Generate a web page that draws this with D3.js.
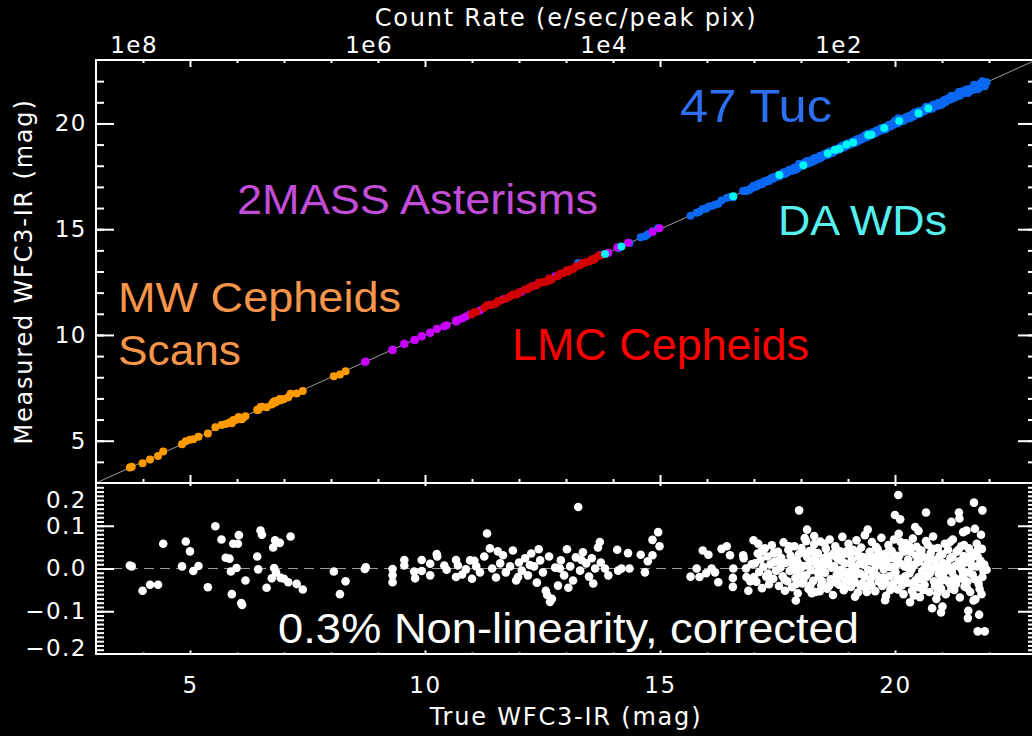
<!DOCTYPE html>
<html>
<head>
<meta charset="utf-8">
<script src="https://cdn.jsdelivr.net/npm/d3@7"></script>
<style>
  html, body { margin: 0; padding: 0; background: #000; }
  svg { display: block; background: #000; }
  .axis text { font-family: "DejaVu Sans", sans-serif; fill: #fff; letter-spacing: 1.5px; font-size: 23px; }
  .axis line { stroke: #fff; stroke-width: 2; }
  .title { font-family: "DejaVu Sans", sans-serif; fill: #fff; letter-spacing: 1.8px; font-size: 24px; }
  .note { font-family: "Liberation Sans", Arial, sans-serif; }
</style>
</head>
<body>
<svg class="main" width="1032" height="736"></svg>
<script>
// axes
var X_DOMAIN = [3, 23];
var MAG_DOMAIN = [3, 23];
var RESID_DOMAIN = [-0.2, 0.2];
var MAG_TICKS = [5, 10, 15, 20];
var MAG_MINOR = [4, 6, 7, 8, 9, 11, 12, 13, 14, 16, 17, 18, 19, 21, 22];
var RESID_TICKS = [-0.2, -0.1, 0, 0.1, 0.2];
var COUNT_TICKS = [1e8, 1e6, 1e4, 1e2];
var COUNT_ZP = 23.8; // mag that gives 1 e/sec/peak pix

// [true mag, residual] per sample
var MW_CEPHEIDS = [
  [3.72, 0.007], [3.76, 0.005], [3.99, -0.052], [4.15, -0.038], [4.32, -0.038], [4.43, 0.058],
  [4.83, 0.005], [4.91, 0.063], [5.00, 0.040], [5.07, -0.006], [5.18, 0.006], [5.38, -0.044],
  [5.54, 0.099], [5.67, 0.068], [5.76, 0.025], [5.84, 0.023], [5.87, -0.007], [5.89, -0.060],
  [5.92, 0.058], [5.99, 0.001], [6.02, 0.058], [6.04, 0.078], [6.09, -0.081], [6.11, -0.085],
  [6.18, -0.028], [6.43, 0.028], [6.45, -0.002], [6.50, 0.089], [6.53, 0.079], [6.63, -0.045],
  [6.74, -0.023], [6.77, 0.049], [6.79, 0.001], [6.81, 0.066], [6.83, -0.009], [6.91, 0.060],
  [6.93, -0.022], [7.00, -0.024], [7.09, -0.032], [7.14, 0.075], [7.27, -0.036], [7.40, -0.049],
  [8.06, -0.007], [8.19, -0.060], [8.31, -0.030]
];

var ASTERISMS = [
  [8.72, -0.001], [8.74, 0.003], [9.31, -0.001], [9.31, -0.016], [9.31, -0.032], [9.56, 0.020],
  [9.56, 0.007], [9.77, -0.007], [9.79, -0.023], [9.93, 0.020], [9.93, -0.006], [10.11, 0.011],
  [10.11, -0.016], [10.25, 0.034], [10.26, 0.028], [10.41, 0.007], [10.46, -0.003], [10.66, 0.020],
  [10.66, -0.020], [10.70, 0.007], [10.79, -0.014], [10.87, -0.002], [10.96, 0.019], [11.17, -0.009],
  [11.38, 0.047], [11.66, 0.031], [12.06, -0.005], [12.32, 0.005], [12.77, 0.002], [13.72, 0.062],
  [13.90, -0.016], [14.09, 0.044], [14.32, 0.036], [14.84, 0.031], [14.99, 0.052]
];

var LMC_CEPHEIDS = [
  [11.00, -0.024], [11.09, 0.005], [11.26, 0.028], [11.32, 0.082], [11.43, 0.000], [11.51, -0.021],
  [11.60, 0.012], [11.72, -0.009], [11.81, 0.005], [11.87, 0.042], [11.94, -0.028], [12.00, 0.014],
  [12.13, 0.024], [12.19, -0.016], [12.26, 0.035], [12.38, -0.033], [12.45, 0.019], [12.51, -0.009],
  [12.57, -0.052], [12.60, -0.062], [12.64, 0.028], [12.66, -0.078], [12.70, -0.071], [12.83, -0.040],
  [12.89, 0.019], [12.96, -0.016], [13.02, 0.045], [13.09, 0.005], [13.15, -0.028], [13.21, 0.026],
  [13.30, -0.005], [13.36, 0.038], [13.43, 0.012], [13.49, -0.019], [13.55, 0.024], [13.62, 0.000],
  [13.68, 0.049], [13.74, 0.014], [11.05, 0.018], [11.55, 0.040], [11.98, -0.020], [12.23, 0.008],
  [12.42, 0.045], [12.87, 0.000], [13.05, -0.045], [13.33, 0.020], [13.58, -0.035]
];

var TUC47 = [
  [13.26, 0.144], [14.11, -0.005], [14.35, 0.000], [14.59, 0.032], [14.68, -0.009], [14.74, 0.017],
  [14.84, 0.067], [14.96, 0.085],
  [15.65, -0.019], [15.78, 0.000], [15.84, -0.020], [15.91, 0.042], [15.98, -0.011], [16.03, 0.032],
  [16.10, 0.000], [16.17, -0.009], [16.24, -0.032], [16.31, 0.046], [16.42, 0.052], [16.49, 0.031],
  [16.55, -0.022], [16.55, -0.043], [16.77, 0.031], [16.78, 0.024], [16.83, 0.000], [16.84, -0.020],
  [16.88, -0.052], [16.99, 0.066], [17.09, 0.058],
  [17.02, 0.012], [17.05, -0.031], [17.08, 0.035], [17.11, -0.008], [17.14, 0.021], [17.17, -0.046],
  [17.20, 0.004], [17.23, 0.047], [17.26, -0.019], [17.29, 0.028], [17.32, -0.037], [17.35, 0.010],
  [17.38, 0.054], [17.41, -0.024], [17.44, 0.016], [17.47, -0.005],
  [17.51, 0.039], [17.53, -0.041], [17.56, 0.002], [17.58, 0.025], [17.61, -0.018], [17.63, 0.061],
  [17.66, -0.052], [17.68, 0.013], [17.71, -0.030], [17.73, 0.044], [17.76, -0.006], [17.78, 0.030],
  [17.81, -0.044], [17.83, 0.008], [17.86, 0.052], [17.88, -0.022], [17.91, 0.019], [17.93, -0.058],
  [17.96, 0.034], [17.98, -0.012],
  [18.01, 0.048], [18.03, -0.035], [18.06, 0.006], [18.08, 0.071], [18.11, -0.016], [18.13, 0.027],
  [18.16, -0.048], [18.18, 0.041], [18.21, -0.004], [18.23, 0.018], [18.26, -0.029], [18.28, 0.057],
  [18.31, -0.055], [18.33, 0.010], [18.36, 0.036], [18.38, -0.020], [18.41, 0.063], [18.43, -0.039],
  [18.46, 0.001], [18.48, 0.024],
  [18.51, -0.010], [18.53, 0.046], [18.56, -0.047], [18.58, 0.015], [18.61, 0.068], [18.63, -0.025],
  [18.66, 0.031], [18.68, -0.062], [18.71, 0.005], [18.73, 0.052], [18.76, -0.014], [18.78, 0.023],
  [18.81, -0.038], [18.83, 0.040], [18.86, -0.003], [18.88, 0.074], [18.91, -0.051], [18.93, 0.012],
  [18.96, -0.027], [18.98, 0.035],
  [19.01, 0.058], [19.03, -0.008], [19.06, -0.043], [19.08, 0.020], [19.11, 0.044], [19.13, -0.021],
  [19.16, 0.003], [19.18, 0.066], [19.21, -0.056], [19.23, 0.029], [19.26, -0.012], [19.28, 0.049],
  [19.31, -0.034], [19.33, 0.009], [19.36, 0.078], [19.38, -0.046], [19.41, 0.017], [19.43, -0.003],
  [19.46, 0.039], [19.48, -0.025],
  [19.51, 0.062], [19.53, -0.015], [19.56, 0.026], [19.58, -0.053], [19.61, 0.007], [19.63, 0.045],
  [19.66, -0.031], [19.68, 0.014], [19.71, 0.072], [19.73, -0.041], [19.76, -0.002], [19.78, 0.034],
  [19.81, -0.064], [19.83, 0.021], [19.86, 0.055], [19.88, -0.018], [19.91, 0.003], [19.93, 0.041],
  [19.96, -0.036], [19.98, 0.068],
  [20.01, -0.009], [20.03, 0.030], [20.06, -0.049], [20.08, 0.081], [20.11, 0.012], [20.13, -0.024],
  [20.16, 0.047], [20.18, -0.060], [20.21, 0.004], [20.23, 0.059], [20.26, -0.033], [20.28, 0.021],
  [20.31, -0.011], [20.33, 0.039], [20.36, -0.052], [20.38, 0.070], [20.41, 0.008], [20.43, -0.028],
  [20.46, 0.051], [20.48, -0.044],
  [20.51, 0.016], [20.53, -0.067], [20.56, 0.042], [20.58, -0.006], [20.61, 0.027], [20.63, -0.038],
  [20.66, 0.064], [20.68, -0.019], [20.71, 0.009], [20.73, -0.055], [20.76, 0.036], [20.78, -0.002],
  [20.81, 0.075], [20.83, -0.030], [20.86, 0.020], [20.88, -0.071], [20.91, 0.048], [20.93, -0.013],
  [20.96, 0.003], [20.98, -0.047],
  [21.01, 0.033], [21.03, -0.021], [21.06, 0.058], [21.08, -0.060], [21.11, 0.011], [21.13, 0.044],
  [21.16, -0.035], [21.18, 0.024], [21.21, -0.008], [21.23, 0.068], [21.26, -0.050], [21.28, 0.006],
  [21.31, 0.039], [21.33, -0.026], [21.36, 0.017], [21.38, -0.068], [21.41, 0.052], [21.43, -0.004],
  [21.46, 0.029], [21.48, -0.042],
  [21.51, 0.014], [21.54, -0.031], [21.57, 0.047], [21.60, -0.055], [21.62, 0.022], [21.65, -0.014],
  [21.68, 0.036], [21.71, -0.072], [21.74, 0.005], [21.78, -0.036], [21.82, 0.018], [21.86, -0.020],
  [21.90, 0.009],
  [17.85, -0.003], [17.95, 0.011], [18.05, -0.022], [18.15, 0.008], [18.25, 0.040], [18.35, -0.008],
  [18.45, -0.030], [18.55, 0.028], [18.65, 0.002], [18.75, -0.033], [18.85, 0.019], [18.95, -0.009],
  [19.05, 0.033], [19.15, -0.033], [19.25, 0.012], [19.35, -0.018], [19.45, 0.025], [19.55, -0.004],
  [19.65, 0.036], [19.75, -0.022], [19.85, 0.006], [19.95, 0.024], [20.05, 0.018], [20.15, -0.039],
  [20.25, 0.009], [20.35, -0.002], [20.45, 0.030], [20.55, -0.025], [20.65, 0.005], [20.75, 0.022],
  [20.85, -0.041], [20.95, 0.030], [21.05, -0.007], [21.15, 0.002], [21.25, -0.020], [21.35, 0.044],
  [21.45, -0.015], [18.40, -0.053], [18.90, -0.040], [19.40, -0.055], [19.90, -0.050], [20.40, -0.063],
  [20.90, -0.058], [21.20, -0.047], [19.60, 0.050], [20.20, 0.040], [20.70, 0.055],
  [17.55, 0.018], [17.65, -0.026], [17.75, 0.052], [17.80, 0.021], [17.90, -0.036], [18.00, 0.002],
  [18.10, 0.034], [18.20, -0.040], [18.30, 0.024], [18.42, 0.012], [18.50, 0.058], [18.60, -0.040],
  [18.70, 0.036], [18.80, -0.008], [18.87, 0.030], [19.00, -0.027], [19.07, 0.010], [19.20, 0.038],
  [19.27, -0.040], [19.32, 0.027], [19.44, -0.039], [19.52, 0.016], [19.62, -0.017], [19.70, 0.025],
  [19.80, -0.034], [19.87, 0.040], [20.00, 0.005], [20.04, -0.026], [20.12, 0.062], [20.22, -0.018],
  [20.30, 0.053], [20.37, -0.035], [20.47, 0.014], [20.52, 0.034], [20.60, -0.050], [20.67, 0.024],
  [20.74, -0.011], [20.80, 0.046], [20.87, 0.004], [20.97, -0.030], [21.02, 0.013], [21.10, -0.028],
  [21.17, 0.062], [21.22, 0.027], [21.30, -0.036], [21.40, 0.002], [21.47, 0.055], [21.53, -0.045],
  [21.58, 0.030], [21.64, 0.006], [21.70, -0.025], [21.76, 0.028], [21.80, -0.048], [21.85, 0.046],
  [17.00, -0.020], [17.16, 0.040], [17.30, -0.012], [17.42, 0.036], [16.95, 0.010], [16.92, -0.030],
  // outliers
  [17.96, 0.136], [20.07, 0.172], [20.00, 0.125], [20.11, 0.115], [20.66, 0.131], [21.36, 0.131],
  [21.20, 0.109], [21.68, 0.154], [21.86, 0.136], [21.37, 0.117], [18.13, 0.091], [18.28, 0.076],
  [18.11, 0.064], [19.42, 0.091], [20.43, 0.097], [20.50, 0.088], [21.70, 0.093], [21.83, 0.079],
  [21.52, 0.089], [21.45, 0.085], [21.74, 0.058], [21.77, 0.046], [17.89, -0.075], [18.23, -0.058],
  [19.15, -0.066], [19.79, -0.074], [20.32, -0.079], [20.79, -0.093], [20.98, -0.103], [21.01, -0.089],
  [21.56, -0.099], [21.55, -0.116], [21.79, -0.108], [21.76, -0.147], [21.91, -0.147], [21.84, -0.060],
  [21.67, -0.075], [21.88, -0.005], [21.95, -0.003], [21.57, -0.009], [21.49, -0.028]
];

var DA_WDS = [
  [13.83, 0.000], [14.18, 0.000], [16.56, 0.000], [17.54, 0.020], [18.05, -0.030], [18.57, 0.010],
  [18.72, 0.030], [18.82, -0.020], [18.97, 0.040], [19.11, -0.010], [19.43, 0.020], [19.50, -0.040],
  [19.77, 0.010], [20.09, 0.030], [20.50, -0.020], [20.71, 0.010]
];

var W = 1032, H = 736;
var LEFT = 96, RIGHT = 1036, TOP = 60, MID = 483, BOTTOM = 654;

var GROUPS = [
  { data: TUC47, color: "#0a68f2" },
  { data: ASTERISMS, color: "#c800ff" },
  { data: LMC_CEPHEIDS, color: "#d20000" },
  { data: MW_CEPHEIDS, color: "#ff9a00" },
  { data: DA_WDS, color: "#00f5f5" }
];

function countRate(m) { return Math.pow(10, 0.4 * (COUNT_ZP - m)); }

function initChart() {
  var svg = d3.select("svg.main");

  var x = d3.scaleLinear().domain(X_DOMAIN).range([LEFT, RIGHT]);
  var yTop = d3.scaleLinear().domain(MAG_DOMAIN).range([MID, TOP]);
  var yRes = d3.scaleLinear().domain(RESID_DOMAIN).range([BOTTOM, MID]);
  var xCount = d3.scaleLog()
    .domain([countRate(X_DOMAIN[0]), countRate(X_DOMAIN[1])])
    .range([LEFT, RIGHT]);

  // one-to-one line
  svg.append("line")
    .attr("x1", x(3)).attr("y1", yTop(3))
    .attr("x2", x(23)).attr("y2", yTop(23))
    .attr("stroke", "#9a9a9a").attr("stroke-width", 1);

  // zero line in residual panel
  svg.append("line")
    .attr("x1", LEFT).attr("x2", RIGHT)
    .attr("y1", yRes(0)).attr("y2", yRes(0))
    .attr("stroke", "#9a9a9a").attr("stroke-width", 1)
    .attr("stroke-dasharray", "10,6");

  // top panel points, coloured by sample
  GROUPS.forEach(function(g) {
    svg.append("g").selectAll("circle")
      .data(g.data)
      .enter().append("circle")
      .attr("cx", function(d) { return x(d[0]); })
      .attr("cy", function(d) { return yTop(d[0] + d[1]); })
      .attr("r", 4)
      .attr("fill", g.color);
  });

  // residuals, all white
  var all = [];
  GROUPS.forEach(function(g) { all = all.concat(g.data); });
  svg.append("g").selectAll("circle")
    .data(all)
    .enter().append("circle")
    .attr("cx", function(d) { return x(d[0]); })
    .attr("cy", function(d) { return yRes(d[1]); })
    .attr("r", 4.3)
    .attr("fill", "#fff");

  // frame
  var frame = svg.append("g").attr("stroke", "#fff").attr("stroke-width", 2);
  frame.append("line").attr("x1", LEFT - 1).attr("x2", RIGHT).attr("y1", TOP).attr("y2", TOP);
  frame.append("line").attr("x1", LEFT - 1).attr("x2", RIGHT).attr("y1", MID).attr("y2", MID);
  frame.append("line").attr("x1", LEFT - 1).attr("x2", RIGHT).attr("y1", BOTTOM).attr("y2", BOTTOM);
  frame.append("line").attr("x1", LEFT).attr("x2", LEFT).attr("y1", TOP).attr("y2", BOTTOM);
  frame.append("line").attr("x1", RIGHT).attr("x2", RIGHT).attr("y1", TOP).attr("y2", BOTTOM);

  function ticks(axis, values, size, tx, ty) {
    svg.append("g").attr("class", "axis")
      .attr("transform", "translate(" + tx + "," + ty + ")")
      .call(axis.tickValues(values).tickSize(size).tickFormat(""))
      .call(function(g) { g.select(".domain").remove(); });
  }

  // x ticks
  ticks(d3.axisTop(x), MAG_TICKS, -7, 0, TOP);
  ticks(d3.axisTop(x), MAG_MINOR, -3, 0, TOP);
  ticks(d3.axisBottom(x), MAG_TICKS, -8, 0, MID);
  ticks(d3.axisBottom(x), MAG_MINOR, -4, 0, MID);
  ticks(d3.axisTop(x), MAG_TICKS, -3, 0, MID);
  ticks(d3.axisBottom(x), MAG_TICKS, -3.5, 0, BOTTOM);
  ticks(d3.axisBottom(x), MAG_MINOR, -1.5, 0, BOTTOM);

  // y ticks, top panel
  var magMinorY = d3.range(4, 23);
  ticks(d3.axisLeft(yTop), MAG_TICKS, -18, LEFT, 0);
  ticks(d3.axisLeft(yTop), magMinorY, -8, LEFT, 0);
  ticks(d3.axisRight(yTop), MAG_TICKS, -18, RIGHT, 0);
  ticks(d3.axisRight(yTop), magMinorY, -8, RIGHT, 0);

  // y ticks, residual panel
  var resMinor = d3.range(-19, 20).map(function(i) { return i / 100; });
  ticks(d3.axisLeft(yRes), [-0.1, 0, 0.1], -18, LEFT, 0);
  ticks(d3.axisLeft(yRes), resMinor, -8, LEFT, 0);
  ticks(d3.axisRight(yRes), [-0.1, 0, 0.1], -18, RIGHT, 0);
  ticks(d3.axisRight(yRes), resMinor, -8, RIGHT, 0);

  // tick labels
  function labels(axis, values, fmt, pad, tx, ty) {
    return svg.append("g").attr("class", "axis")
      .attr("transform", "translate(" + tx + "," + ty + ")")
      .call(axis.tickValues(values).tickSize(0).tickPadding(pad).tickFormat(fmt))
      .call(function(g) { g.select(".domain").remove(); });
  }

  labels(d3.axisBottom(x), MAG_TICKS, d3.format("d"), 23, 0, BOTTOM);
  labels(d3.axisLeft(yTop), MAG_TICKS, d3.format("d"), 9, LEFT, 0);
  var resLab = labels(d3.axisLeft(yRes), RESID_TICKS, d3.format(".1f"), 9, LEFT, 0);
  resLab.selectAll(".tick text").attr("dy", function(d) {
    if (d > 0.15) return "1.05em";
    if (d < -0.15) return "0.05em";
    return "0.32em";
  });
  labels(d3.axisTop(xCount), COUNT_TICKS, function(d) { return "1e" + Math.round(Math.log10(d)); }, 7, 0, TOP);

  // axis titles
  svg.append("text").attr("class", "title")
    .attr("x", (LEFT + RIGHT) / 2).attr("y", 26)
    .attr("text-anchor", "middle")
    .text("Count Rate (e/sec/peak pix)");
  svg.append("text").attr("class", "title")
    .attr("x", (LEFT + RIGHT) / 2).attr("y", 725)
    .attr("text-anchor", "middle")
    .text("True WFC3-IR (mag)");
  svg.append("text").attr("class", "title")
    .attr("transform", "translate(32," + ((TOP + MID) / 2) + ")rotate(-90)")
    .attr("text-anchor", "middle")
    .text("Measured WFC3-IR (mag)");

  // sample annotations
  var notes = [
    { text: "47 Tuc", x: 680, y: 122, size: 47, len: 152, color: "#2c6ff2" },
    { text: "DA WDs", x: 778, y: 235, size: 43, len: 169, color: "#55f0f0" },
    { text: "2MASS Asterisms", x: 237, y: 214, size: 42, len: 361, color: "#c34cd8" },
    { text: "MW Cepheids", x: 118, y: 312, size: 42, len: 283, color: "#f7964a" },
    { text: "Scans", x: 118, y: 365, size: 42, len: 123, color: "#f7964a" },
    { text: "LMC Cepheids", x: 512, y: 360, size: 45, len: 297, color: "#ff0000" },
    { text: "0.3% Non-linearity, corrected", x: 278, y: 643, size: 43, len: 581, color: "#ffffff" }
  ];
  svg.append("g").selectAll("text")
    .data(notes)
    .enter().append("text")
    .attr("class", "note")
    .attr("x", function(d) { return d.x; })
    .attr("y", function(d) { return d.y; })
    .attr("font-size", function(d) { return d.size; })
    .attr("textLength", function(d) { return d.len; })
    .attr("lengthAdjust", "spacingAndGlyphs")
    .attr("fill", function(d) { return d.color; })
    .text(function(d) { return d.text; });
}

function main() {
  initChart();
}

main();
</script>
</body>
</html>
